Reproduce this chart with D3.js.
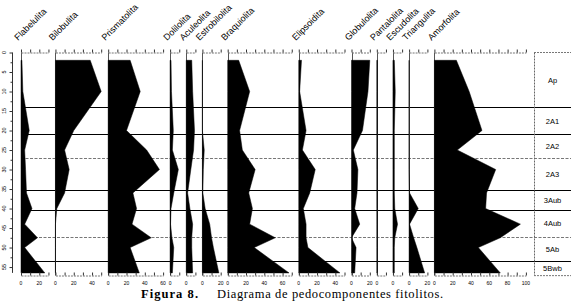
<!DOCTYPE html>
<html><head><meta charset="utf-8">
<script src="https://cdn.jsdelivr.net/npm/d3@7/dist/d3.min.js"></script>
<style>
html,body{margin:0;padding:0;background:#fff;}
svg{display:block;}
text{font-family:"Liberation Sans",Arial,sans-serif;}
</style></head>
<body>
<svg id="c" width="571" height="308"></svg>
<script>
// ---------------- data ----------------
const taxa = ["Flabelulita","Bilobulita","Prismatolita","Dolilolita","Aculeolita","Estrobilolita","Braquiolita","Elipsoidita","Globulolita","Pantalolita","Escudolita","Triangulita","Amorfolita"];
const axisMax = [30,50,60,10,10,20,70,50,20,10,10,20,100];
const depths = [2,10,20,25,30,36,40,44,47.5,50,56.5];
const flabelulita   = [1,2,9,4,5,6,12,4,18,4,26];
const bilobulita    = [38,50,20,10,15,10,1.5,0,0,0,0];
const prismatolita  = [24,35,20,42,56,27,31,26,47,24,34];
const dolilolita    = [1,1.5,3.5,2.5,9,4,1,0.5,2,4,2.5];
const aculeolita    = [6,7,9,8,5,1.5,4,7,6,6,7];
const estrobilolita = [0,0,0,2,1,0.5,3,8,10,12,18];
const braquiolita   = [12,24,13,16,30,23,27,24,52,29,67];
const elipsoidita   = [3,1,8,4,18,12,5,8,8,10,45];
const globulolita   = [20,18,12,2,7,6,3.5,9,0,5,3.5];
const pantalolita   = [0.7,0.7,0.7,0.7,0.7,0.7,0.7,0.7,0.7,0.7,0.7];
const escudolita    = [1.5,2.5,1.5,1.5,1.5,1.5,2,5,2,1.5,1.5];
const triangulita   = [0,0,0,0,0,0.5,10,0.5,5,8.5,17];
const amorfolita    = [24,38,52,25,67,57,56,94,72,48,72];
const series = [flabelulita,bilobulita,prismatolita,dolilolita,aculeolita,estrobilolita,braquiolita,elipsoidita,globulolita,pantalolita,escudolita,triangulita,amorfolita];
const depthTicks = [0,5,10,15,20,25,30,35,40,45,50,55];
const horizons = ["Ap","2A1","2A2","2A3","3Aub","4Aub","5Ab","5Bwb"];
const horizonTops = [0,14,21,27,35.2,40.4,47.3,53.4];
const horizonBottom = 57.2;
const dashedBounds = [27,47.3];
const captionBold = "Figura 8.";
const captionText = "Diagrama de pedocomponentes fitolitos.";

// ---------------- layout ----------------
const svg = d3.select("#c");
const k = 0.915, gap = 7, left0 = 21;
const y = d3.scaleLinear().domain([0,56.5]).range([52.5,272.9]);
const yTopAxis = 52.5, yBotAxis = 275.5;
const boxX = 534;

const offsets = [];
let cx = left0;
axisMax.forEach(m => { offsets.push(cx); cx += m*k + gap; });

// horizon lines (behind fills)
const gH = svg.append("g");
horizonTops.slice(1).forEach(d => {
  const dashed = dashedBounds.includes(d);
  gH.append("line").attr("x1",left0).attr("x2",571)
    .attr("y1",Math.round(y(d))+0.5).attr("y2",Math.round(y(d))+0.5)
    .attr("stroke",dashed?"#777":"#000").attr("stroke-width",1)
    .attr("stroke-dasharray",dashed?"3,1.5":null);
});

// y axis
const yAxisG = svg.append("g").attr("transform","translate(12.5,0)");
yAxisG.append("line").attr("x1",0).attr("x2",0).attr("y1",y(0)).attr("y2",y(56.5)).attr("stroke","#333");
const yMinor = d3.axisLeft(y).tickValues(d3.range(2.5,56,5)).tickSize(2).tickFormat("");
yAxisG.append("g").call(yMinor).call(g=>g.select(".domain").remove()).selectAll("line").attr("stroke","#333");
const yMajor = d3.axisLeft(y).tickValues(depthTicks).tickSize(3).tickFormat("");
yAxisG.append("g").call(yMajor).call(g=>g.select(".domain").remove()).selectAll("line").attr("stroke","#333");
svg.append("g").selectAll("text").data(depthTicks).join("text")
  .attr("transform",d=>`translate(5.6,${y(d)}) rotate(-90)`)
  .attr("text-anchor","middle").attr("font-size",5.5).attr("fill","#000").text(d=>d);

// panels
taxa.forEach((name,i) => {
  const x = d3.scaleLinear().domain([0,axisMax[i]]).range([offsets[i], offsets[i]+axisMax[i]*k]);
  const g = svg.append("g");
  g.append("line").attr("x1",Math.round(x(0))+0.5).attr("x2",Math.round(x(0))+0.5)
    .attr("y1",yTopAxis).attr("y2",yBotAxis).attr("stroke","#555");
  const area = d3.area().x0(x(0)).x1((d,j)=>x(series[i][j])).y((d,j)=>y(depths[j]));
  g.append("path").datum(depths).attr("d",area).attr("fill","#000").attr("stroke","#000").attr("stroke-width",0.5);
  const tv = d3.range(0,axisMax[i]+0.1,10);
  const top = g.append("g").attr("transform",`translate(0,${yTopAxis})`)
    .call(d3.axisTop(x).tickValues(tv).tickSize(3).tickSizeOuter(0).tickFormat(""));
  top.select(".domain").attr("stroke","#777").attr("stroke-dasharray","2,1");
  top.selectAll(".tick line").attr("stroke","#333");
  const bot = g.append("g").attr("transform",`translate(0,${yBotAxis})`)
    .call(d3.axisTop(x).tickValues(tv).tickSize(3).tickSizeOuter(0).tickFormat(""));
  bot.select(".domain").attr("stroke","#777").attr("stroke-dasharray","2,1");
  bot.selectAll(".tick line").attr("stroke","#333");
  const lv = d3.range(0,axisMax[i]+0.1,20);
  g.append("g").selectAll("text").data(lv).join("text")
    .attr("x",d=>x(d)).attr("y",284.5).attr("text-anchor","middle")
    .attr("font-size",5).attr("fill","#000").text(d=>d);
  g.append("text").attr("transform",`translate(${x(0)-3},41) rotate(-45)`)
    .attr("font-size",9).attr("fill","#000").text(name);
});

// horizon box
const gB = svg.append("g");
gB.append("line").attr("x1",boxX+0.5).attr("x2",boxX+0.5).attr("y1",yTopAxis).attr("y2",y(horizonBottom))
  .attr("stroke","#666").attr("stroke-dasharray","2,1");
gB.append("line").attr("x1",boxX).attr("x2",571).attr("y1",yTopAxis).attr("y2",yTopAxis)
  .attr("stroke","#777").attr("stroke-dasharray","2,1");
gB.append("line").attr("x1",boxX).attr("x2",571).attr("y1",y(horizonBottom)).attr("y2",y(horizonBottom))
  .attr("stroke","#777").attr("stroke-dasharray","2,1");
horizons.forEach((h,i)=>{
  const t = horizonTops[i], b = i<horizons.length-1 ? horizonTops[i+1] : horizonBottom;
  gB.append("text").attr("x",552.5).attr("y",(y(t)+y(b))/2+2.8)
    .attr("text-anchor","middle").attr("font-size",7.5).attr("fill","#000").text(h);
});

// caption
svg.append("text").attr("x",141).attr("y",297.5)
  .style("font-family","'Liberation Serif','Times New Roman',serif").attr("font-weight","bold")
  .attr("font-size",12.5).attr("textLength",57).attr("lengthAdjust","spacing").text(captionBold);
svg.append("text").attr("x",217).attr("y",297.5)
  .style("font-family","'Liberation Serif','Times New Roman',serif")
  .attr("font-size",12.5).attr("textLength",226).attr("lengthAdjust","spacing").text(captionText);
</script>
</body></html>
